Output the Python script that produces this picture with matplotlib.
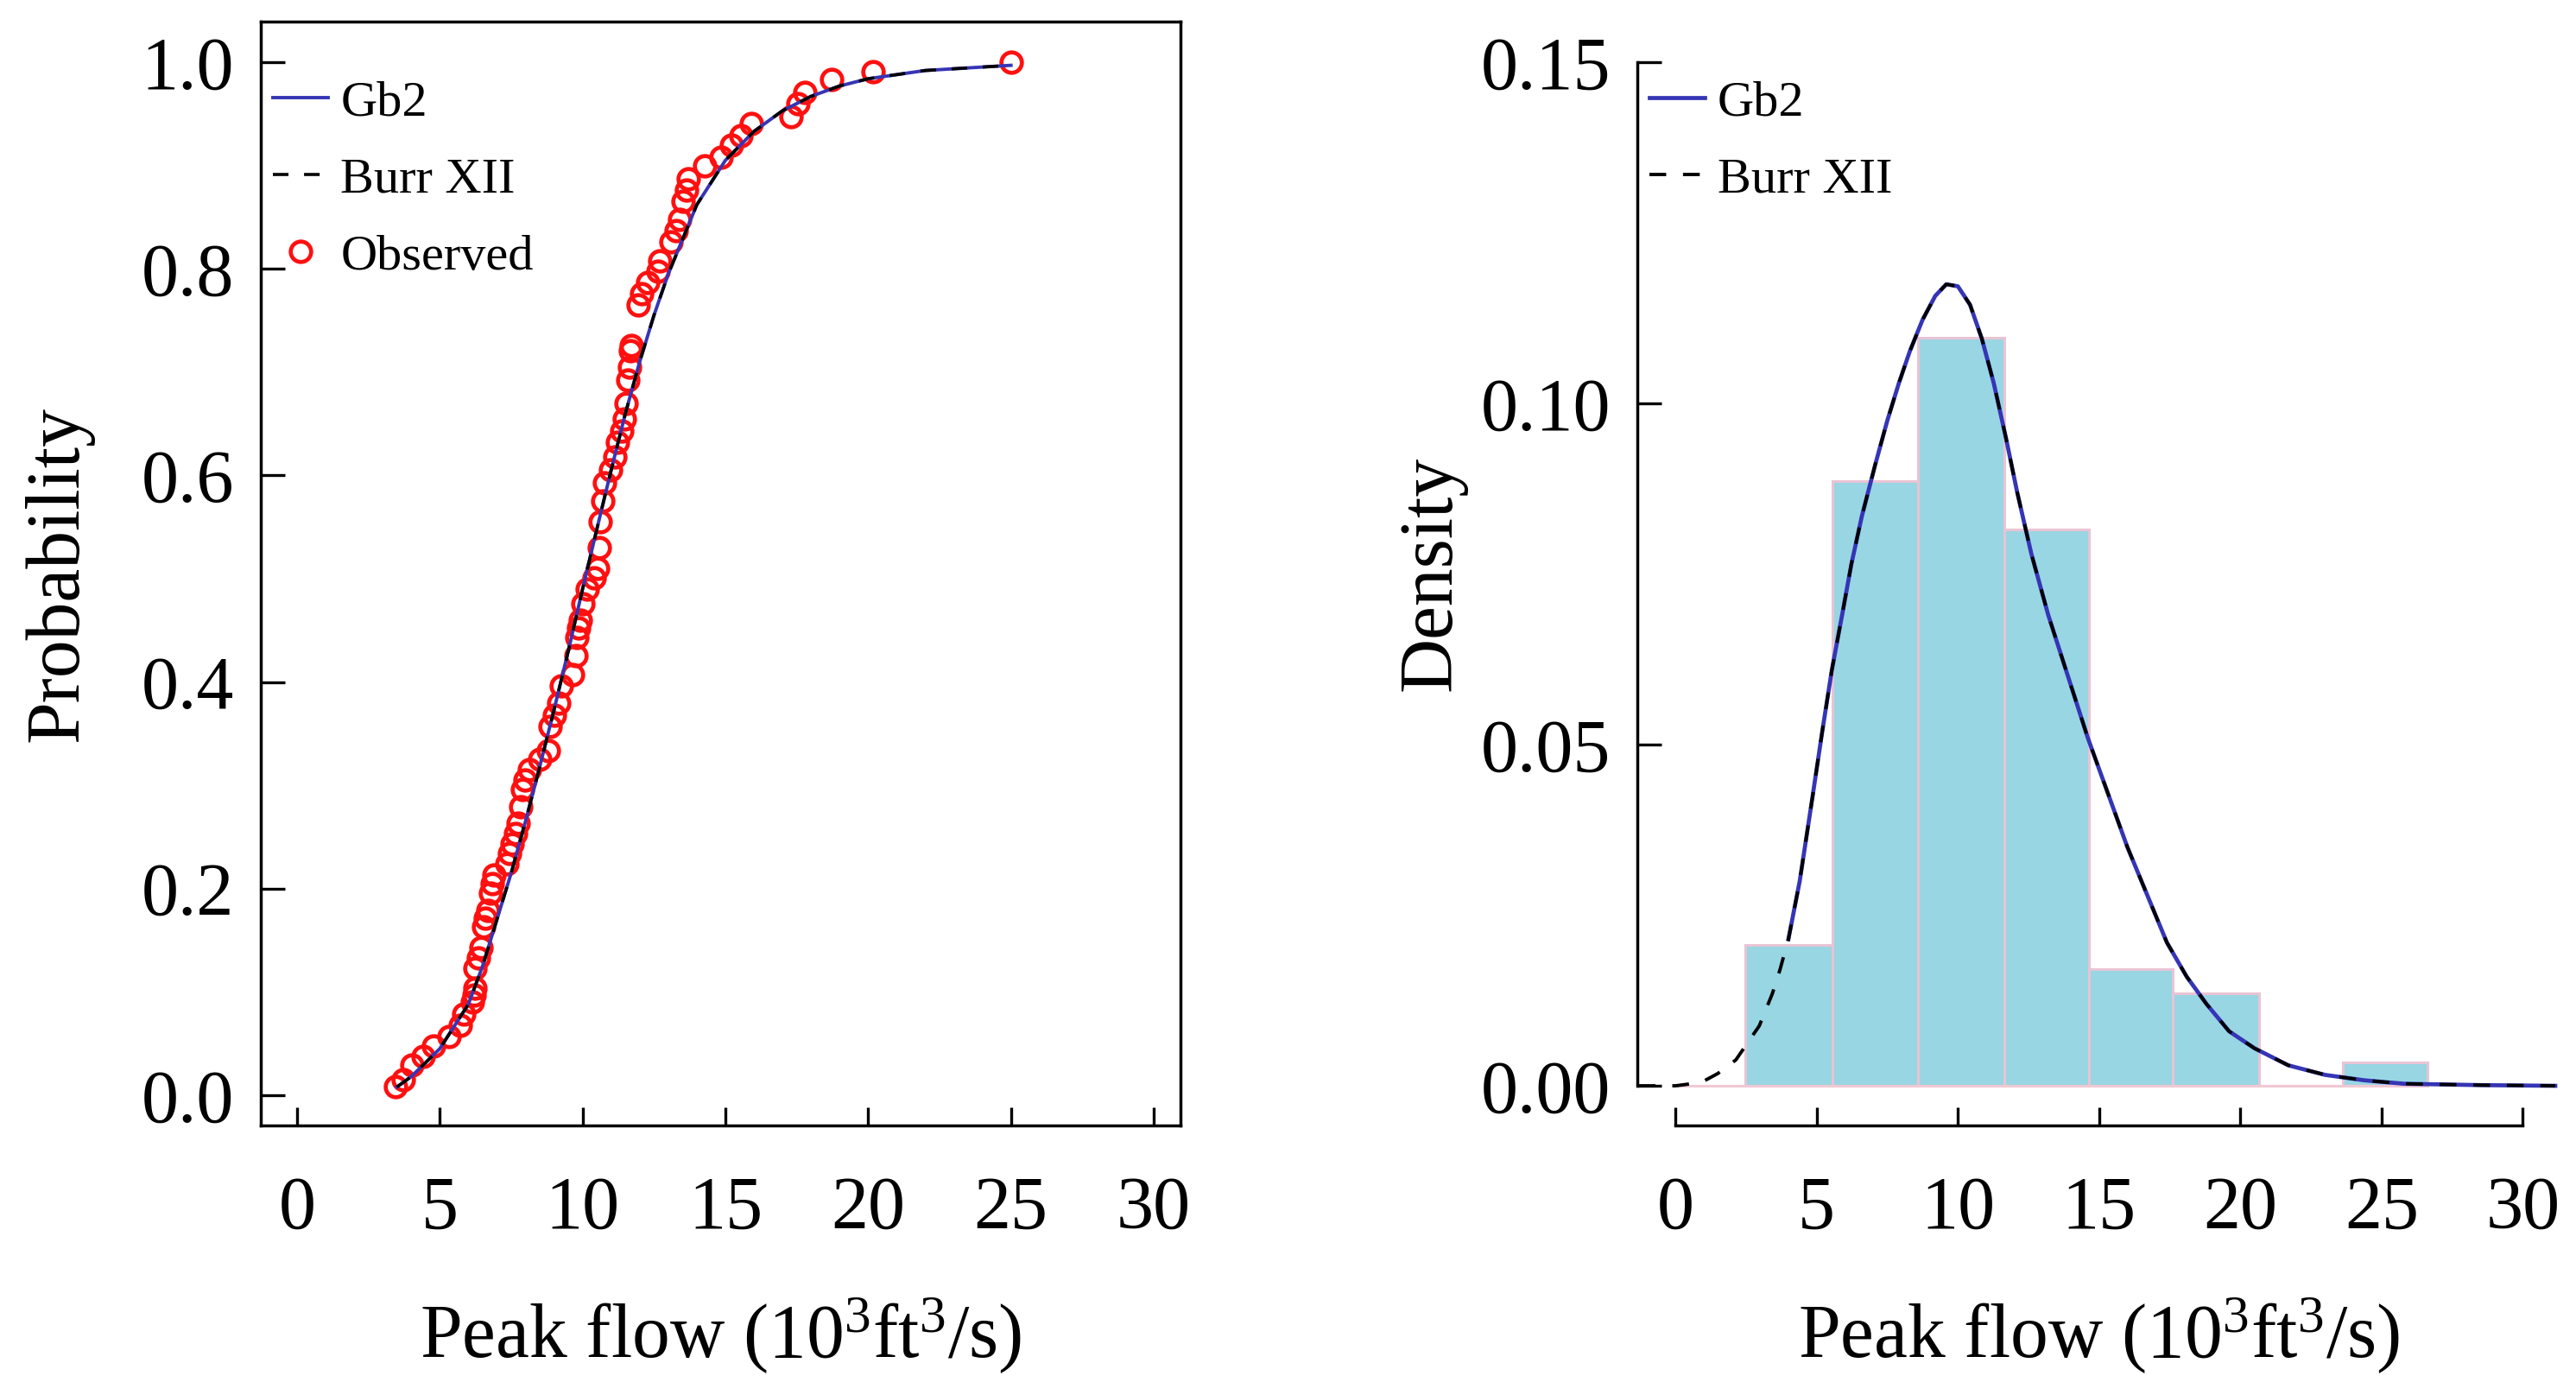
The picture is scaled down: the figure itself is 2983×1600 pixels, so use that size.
import numpy as np
import matplotlib
matplotlib.use("Agg")
import matplotlib.pyplot as plt

# fonts: Times-like serif everywhere, also inside the math superscripts
plt.rcParams['font.family'] = ['Liberation Serif', 'DejaVu Serif']
plt.rcParams['mathtext.fontset'] = 'custom'
plt.rcParams['mathtext.rm'] = 'Liberation Serif'
plt.rcParams['mathtext.it'] = 'Liberation Serif:italic'

# ---- data ----
# observed peak flows (10^3 ft^3/s) and their plotting probabilities
obs_flow = [3.45, 3.72, 4.02, 4.41, 4.78, 5.32, 5.72, 5.84, 6.14, 6.2,
            6.23, 6.23, 6.35, 6.44, 6.53, 6.6, 6.68, 6.77, 6.83, 6.89,
            7.35, 7.45, 7.53, 7.65, 7.74, 7.83, 7.89, 8.0, 8.13, 8.5,
            8.8, 8.86, 9.0, 9.16, 9.25, 9.65, 9.77, 9.8, 9.86, 9.92,
            10.0, 10.16, 10.4, 10.52, 10.58, 10.61, 10.7, 10.77, 10.97, 11.13,
            11.22, 11.37, 11.46, 11.52, 11.58, 11.63, 11.67, 11.7, 11.94, 12.07,
            12.28, 12.64, 12.7, 13.09, 13.28, 13.4, 13.52, 13.64, 13.7, 14.27,
            14.85, 15.21, 15.54, 15.9, 17.29, 17.53, 17.78, 18.72, 20.17, 25.0]
obs_prob = [0.008, 0.015, 0.029, 0.038, 0.048, 0.057, 0.068, 0.079, 0.09, 0.097,
            0.104, 0.123, 0.133, 0.143, 0.163, 0.171, 0.179, 0.196, 0.205, 0.213,
            0.224, 0.234, 0.243, 0.253, 0.263, 0.279, 0.296, 0.305, 0.315, 0.325,
            0.334, 0.357, 0.368, 0.38, 0.396, 0.407, 0.426, 0.443, 0.452, 0.46,
            0.476, 0.49, 0.501, 0.51, 0.53, 0.555, 0.575, 0.593, 0.605, 0.618,
            0.632, 0.643, 0.655, 0.67, 0.692, 0.705, 0.721, 0.726, 0.765, 0.776,
            0.787, 0.798, 0.808, 0.826, 0.837, 0.848, 0.865, 0.876, 0.887, 0.9,
            0.908, 0.92, 0.929, 0.941, 0.947, 0.96, 0.971, 0.983, 0.991, 1.0]

# fitted CDF curves (Gb2 and Burr XII lie on top of each other)
cdf_x = [3.5, 4.0, 5.0, 6.0, 6.5, 7.0, 7.5, 8.0, 8.5, 9.0, 9.5, 10.0, 10.5,
         11.0, 11.5, 12.0, 12.5, 13.0, 14.0, 15.0, 16.0, 17.0, 18.0, 19.0,
         20.0, 22.0, 25.0]
gb2_cdf = [0.008, 0.018, 0.045, 0.088, 0.125, 0.17, 0.215, 0.265, 0.318,
           0.373, 0.43, 0.49, 0.548, 0.605, 0.66, 0.71, 0.755, 0.795, 0.862,
           0.905, 0.933, 0.953, 0.967, 0.977, 0.984, 0.992, 0.997]
burr_cdf = [0.008, 0.018, 0.045, 0.088, 0.125, 0.17, 0.215, 0.265, 0.318,
            0.373, 0.43, 0.49, 0.548, 0.605, 0.66, 0.71, 0.755, 0.795, 0.862,
            0.905, 0.933, 0.953, 0.967, 0.977, 0.984, 0.992, 0.997]

# fitted densities
burr_pdf_x = [-1.3, 0.0, 0.92, 1.5, 2.14, 2.97, 3.43, 3.7, 4.0, 4.4, 4.84,
              5.2, 5.54, 5.9, 6.23, 6.6, 7.07, 7.5, 7.91, 8.3, 8.75, 9.2,
              9.59, 10.0, 10.43, 10.85, 11.27, 11.7, 12.1, 12.6, 13.2, 13.9,
              14.6, 15.3, 16.0, 16.7, 17.4, 18.1, 18.8, 19.6, 20.5, 21.7,
              23.0, 24.4, 25.8, 28.5, 31.15]
burr_pdf = [0.0, 0.0, 0.0005, 0.0018, 0.0038, 0.0088, 0.0135, 0.017, 0.0215,
            0.030, 0.042, 0.052, 0.061, 0.069, 0.0765, 0.0835, 0.091, 0.0975,
            0.103, 0.1077, 0.1123, 0.1158, 0.1175, 0.1172, 0.1145, 0.1095,
            0.103, 0.095, 0.087, 0.078, 0.069, 0.06, 0.051, 0.043, 0.035,
            0.028, 0.021, 0.016, 0.012, 0.008, 0.0055, 0.003, 0.0016, 0.0008,
            0.0003, 0.0001, 0.0]
gb2_pdf_x = [4.0, 4.4, 4.84, 5.2, 5.54, 5.9, 6.23, 6.6, 7.07, 7.5, 7.91, 8.3,
             8.75, 9.2, 9.59, 10.0, 10.43, 10.85, 11.27, 11.7, 12.1, 12.6,
             13.2, 13.9, 14.6, 15.3, 16.0, 16.7, 17.4, 18.1, 18.8, 19.6,
             20.5, 21.7, 23.0, 24.4, 25.8, 28.5, 31.15]
gb2_pdf = [0.0215, 0.030, 0.042, 0.052, 0.061, 0.069, 0.0765, 0.0835, 0.091,
           0.0975, 0.103, 0.1077, 0.1123, 0.1158, 0.1175, 0.1172, 0.1145,
           0.1095, 0.103, 0.095, 0.087, 0.078, 0.069, 0.06, 0.051, 0.043,
           0.035, 0.028, 0.021, 0.016, 0.012, 0.008, 0.0055, 0.003, 0.0016,
           0.0008, 0.0003, 0.0001, 0.0]

# histogram of observed flows
bin_edges = [2.48, 5.55, 8.6, 11.65, 14.65, 17.6, 20.65, 23.62, 26.62]
bin_density = [0.0206, 0.0886, 0.1096, 0.0816, 0.0171, 0.0135, 0.0, 0.0034]

x_ticks = [0, 5, 10, 15, 20, 25, 30]
prob_ticks = [0.0, 0.2, 0.4, 0.6, 0.8, 1.0]
dens_ticks = [0.00, 0.05, 0.10, 0.15]

xlabel = 'Peak flow (10$^{3}$ft$^{3}$/s)'
gb2_color = '#3535b5'
tick_fs = 62
label_fs = 63
legend_fs = 42
leg_kw = dict(loc='upper left', bbox_to_anchor=(0.013, 0.947), frameon=False,
              fontsize=legend_fs, handlelength=1.1, handletextpad=0.25,
              labelspacing=0.62, borderpad=0, borderaxespad=0, numpoints=1)

fig = plt.figure(figsize=(29.83, 16), dpi=100)
ax1 = fig.add_axes([0.1012, 0.1856, 0.357, 0.79875])
ax2 = fig.add_axes([0.6356, 0.1856, 0.358, 0.79875])

# ---- left: cumulative probability ----
ax1.plot(obs_flow, obs_prob, 'o', ms=17, mfc='none', mec='#ff1010', mew=3.4,
         label='Observed', zorder=2)
ax1.plot(cdf_x, gb2_cdf, '-', color=gb2_color, lw=2.8, label='Gb2', zorder=3)
ax1.plot(cdf_x, burr_cdf, color='black', lw=2.6, ls=(0, (5, 5)),
         label='Burr XII', zorder=4)
ax1.set_xlim(-1.27, 30.93)
ax1.set_ylim(-0.0293, 1.0393)
ax1.set_xticks(x_ticks)
ax1.set_yticks(prob_ticks)
ax1.set_yticklabels(['%.1f' % t for t in prob_ticks])
ax1.tick_params(axis='x', direction='in', length=15, width=2.4, pad=42,
                labelsize=tick_fs, top=False)
ax1.tick_params(axis='y', direction='in', length=20, width=2.4, pad=22,
                labelsize=tick_fs, right=False)
for s in ax1.spines.values():
    s.set_linewidth(2.5)
ax1.set_xlabel(xlabel, fontsize=label_fs, labelpad=42)
ax1.set_ylabel('Probability', fontsize=label_fs, labelpad=40)
h, l = ax1.get_legend_handles_labels()
order = [1, 2, 0]
ax1.legend([h[i] for i in order], [l[i] for i in order], **leg_kw)

# ---- right: density ----
ax2.bar(bin_edges[:-1], bin_density, width=np.diff(bin_edges), align='edge',
        color='#98d6e3', edgecolor='#e8c4d4', linewidth=2.2, zorder=1)
ax2.hlines(0, x_ticks[0], bin_edges[-1], color='#f0c8d4', lw=2.2, zorder=1)
ax2.plot(gb2_pdf_x, gb2_pdf, '-', color=gb2_color, lw=3.4, label='Gb2', zorder=3)
ax2.plot(burr_pdf_x, burr_pdf, color='black', lw=2.8, ls=(0, (5, 5)),
         label='Burr XII', zorder=4)
ax2.set_xlim(-1.35, 31.3)
ax2.set_ylim(-0.00582, 0.156)
ax2.set_xticks(x_ticks)
ax2.set_yticks(dens_ticks)
ax2.set_yticklabels(['%.2f' % t for t in dens_ticks])
ax2.spines['top'].set_visible(False)
ax2.spines['right'].set_visible(False)
ax2.spines['left'].set_bounds(dens_ticks[0], dens_ticks[-1])
ax2.spines['bottom'].set_bounds(x_ticks[0], x_ticks[-1])
for s in ax2.spines.values():
    s.set_linewidth(2.5)
ax2.tick_params(axis='x', direction='in', length=15, width=2.4, pad=42,
                labelsize=tick_fs)
ax2.tick_params(axis='y', direction='in', length=20, width=2.4, pad=22,
                labelsize=tick_fs)
ax2.set_xlabel(xlabel, fontsize=label_fs, labelpad=42)
ax2.set_ylabel('Density', fontsize=label_fs, labelpad=12)
ax2.legend(**leg_kw)

fig.savefig('out.png', dpi=100)
